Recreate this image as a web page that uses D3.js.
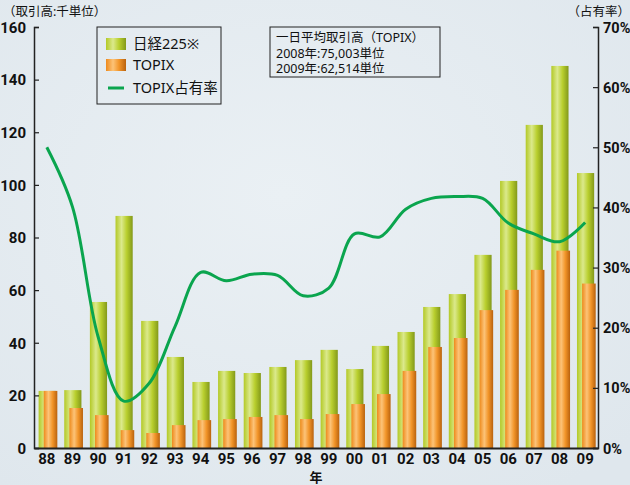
<!DOCTYPE html>
<html>
<head>
<meta charset="utf-8">
<script src="https://cdn.jsdelivr.net/npm/d3@7"></script>
<style>
  body { margin: 0; background: #e5ecf1; }
  svg { display: block; }
  .tick-lbl { font-family: "Liberation Sans Narrow", "Roboto", Arial, sans-serif; font-weight: bold; font-size: 15px; fill: #111; }
  .jp { font-family: "Noto Sans", "Noto Sans CJK JP", sans-serif; fill: #111; }
</style>
</head>
<body>
<div id="chart"></div>
<script>
// data
const years = ["88","89","90","91","92","93","94","95","96","97","98","99","00","01","02","03","04","05","06","07","08","09"];
const nikkei = [21.7, 22.0, 55.5, 88.2, 48.3, 34.6, 25.1, 29.3, 28.5, 30.8, 33.4, 37.3, 30.0, 38.8, 44.1, 53.6, 58.5, 73.4, 101.5, 122.8, 145.2, 104.5];
const topix = [21.7, 15.2, 12.5, 6.8, 5.7, 8.7, 10.6, 11.0, 11.8, 12.5, 11.0, 12.9, 16.7, 20.5, 29.3, 38.4, 41.8, 52.4, 60.1, 67.7, 75.0, 62.5];
const share = [50.0, 40.1, 18.5, 7.8, 10.8, 20.2, 29.2, 27.8, 28.9, 28.7, 25.3, 26.6, 35.6, 35.1, 39.7, 41.5, 41.8, 41.5, 37.4, 35.6, 34.3, 37.5];
const leftTicks = [0, 20, 40, 60, 80, 100, 120, 140, 160];
const rightTicks = [0, 10, 20, 30, 40, 50, 60, 70];

const width = 630, height = 485;
const svg = d3.select('#chart').append('svg')
  .attr('width', width)
  .attr('height', height);

// background wash
const defs = svg.append('defs');
const bg = defs.append('radialGradient').attr('id', 'bg')
  .attr('cx', '45%').attr('cy', '40%').attr('r', '75%');
bg.append('stop').attr('offset', '0%').attr('stop-color', '#eaf0f4');
bg.append('stop').attr('offset', '100%').attr('stop-color', '#dfe7ed');
svg.append('rect').attr('width', width).attr('height', height).attr('fill', 'url(#bg)');

function barGrad(id, stops) {
  const g = defs.append('linearGradient').attr('id', id)
    .attr('x1', '0%').attr('x2', '100%').attr('y1', '0%').attr('y2', '0%');
  stops.forEach(s => g.append('stop').attr('offset', s[0]).attr('stop-color', s[1]));
}
barGrad('gGreen', [['0%', '#b3c926'], ['35%', '#dbe98c'], ['65%', '#b9cf2e'], ['100%', '#83991a']]);
barGrad('gOrange', [['0%', '#ee8a1c'], ['35%', '#fcc378'], ['65%', '#f29529'], ['100%', '#b9620e']]);

const x = d3.scaleBand().domain(years).range([34, 598]);
const y = d3.scaleLinear().domain([0, 160]).range([448, 27]);
const yr = d3.scaleLinear().domain([0, 70]).range([448, 27]);
const bw = x.bandwidth();

// bars
svg.append('g').selectAll('rect')
  .data(years)
  .join('rect')
  .attr('x', (d) => x(d) + bw * 0.18)
  .attr('width', bw * 0.67)
  .attr('y', (d, i) => y(nikkei[i]))
  .attr('height', (d, i) => y(0) - y(nikkei[i]))
  .attr('fill', 'url(#gGreen)');

svg.append('g').selectAll('rect')
  .data(years)
  .join('rect')
  .attr('x', (d) => x(d) + bw * 0.38)
  .attr('width', bw * 0.53)
  .attr('y', (d, i) => y(topix[i]))
  .attr('height', (d, i) => y(0) - y(topix[i]))
  .attr('fill', 'url(#gOrange)');

// share line
const line = d3.line()
  .x((d, i) => x(years[i]) + bw / 2)
  .y(d => yr(d))
  .curve(d3.curveCatmullRom.alpha(0.5));
svg.append('path')
  .datum(share)
  .attr('d', line)
  .attr('fill', 'none')
  .attr('stroke', '#0aa54e')
  .attr('stroke-width', 3)
  .attr('stroke-linejoin', 'round');

// axes
const axL = svg.append('g').attr('transform', 'translate(34,0)')
  .call(d3.axisRight(y).tickValues(leftTicks).tickSize(5).tickFormat(''));
axL.select('.domain').attr('stroke', '#222').attr('stroke-width', 1.5);
axL.selectAll('.tick line').attr('stroke', '#222').attr('stroke-width', 1.2);
axL.selectAll('.tick').append('text')
  .attr('class', 'tick-lbl')
  .attr('x', -8).attr('dy', '0.35em')
  .attr('text-anchor', 'end')
  .text(d => d);

const axR = svg.append('g').attr('transform', 'translate(598,0)')
  .call(d3.axisLeft(yr).tickValues(rightTicks).tickSize(5).tickFormat(''));
axR.select('.domain').attr('stroke', '#222').attr('stroke-width', 1.5);
axR.selectAll('.tick line').attr('stroke', '#222').attr('stroke-width', 1.2);
axR.selectAll('.tick').append('text')
  .attr('class', 'tick-lbl')
  .attr('x', 5).attr('dy', '0.35em')
  .attr('text-anchor', 'start')
  .style('font-size', '14.5px')
  .text(d => d + '%');

const axB = svg.append('g').attr('transform', 'translate(0,448)')
  .call(d3.axisBottom(x).tickSize(0).tickFormat(''));
axB.select('.domain').attr('stroke', '#222').attr('stroke-width', 2);
axB.selectAll('.tick').append('text')
  .attr('class', 'tick-lbl')
  .attr('y', 16).attr('text-anchor', 'middle')
  .text(d => d);

svg.append('text').attr('class', 'jp')
  .attr('x', 316).attr('y', 482).attr('text-anchor', 'middle')
  .attr('font-size', 13).attr('font-weight', 'bold')
  .text('年');

// axis titles
svg.append('text').attr('class', 'jp')
  .attr('x', 3).attr('y', 16).attr('font-size', 12.5)
  .text('（取引高:千単位）');
svg.append('text').attr('class', 'jp')
  .attr('x', 630).attr('y', 16).attr('font-size', 12.5).attr('text-anchor', 'end')
  .text('（占有率）');

// legend
const lg = svg.append('g');
lg.append('rect').attr('x', 97).attr('y', 27).attr('width', 124).attr('height', 77)
  .attr('fill', 'none').attr('stroke', '#222').attr('stroke-width', 1);
const legendItems = [
  { label: '日経225※', type: 'bar', fill: 'url(#gGreen)', yy: 44 },
  { label: 'TOPIX', type: 'bar', fill: 'url(#gOrange)', yy: 65 },
  { label: 'TOPIX占有率', type: 'line', fill: '#0aa54e', yy: 88 }
];
legendItems.forEach(it => {
  if (it.type === 'bar') {
    lg.append('rect').attr('x', 106).attr('y', it.yy - 6).attr('width', 20).attr('height', 12)
      .attr('fill', it.fill);
  } else {
    lg.append('line').attr('x1', 108).attr('x2', 124).attr('y1', it.yy).attr('y2', it.yy)
      .attr('stroke', it.fill).attr('stroke-width', 3);
  }
  lg.append('text').attr('class', 'jp')
    .attr('x', 133).attr('y', it.yy).attr('dy', '0.35em')
    .attr('font-size', 14.5)
    .text(it.label);
});

// info box
const info = ['一日平均取引高（TOPIX）', '2008年:75,003単位', '2009年:62,514単位'];
svg.append('rect').attr('x', 270).attr('y', 27).attr('width', 170).attr('height', 50)
  .attr('fill', 'none').attr('stroke', '#222').attr('stroke-width', 1);
info.forEach((t, i) => {
  svg.append('text').attr('class', 'jp')
    .attr('x', 276).attr('y', 38 + i * 15.5).attr('dy', '0.35em')
    .attr('font-size', 12.5)
    .text(t);
});
</script>
</body>
</html>
